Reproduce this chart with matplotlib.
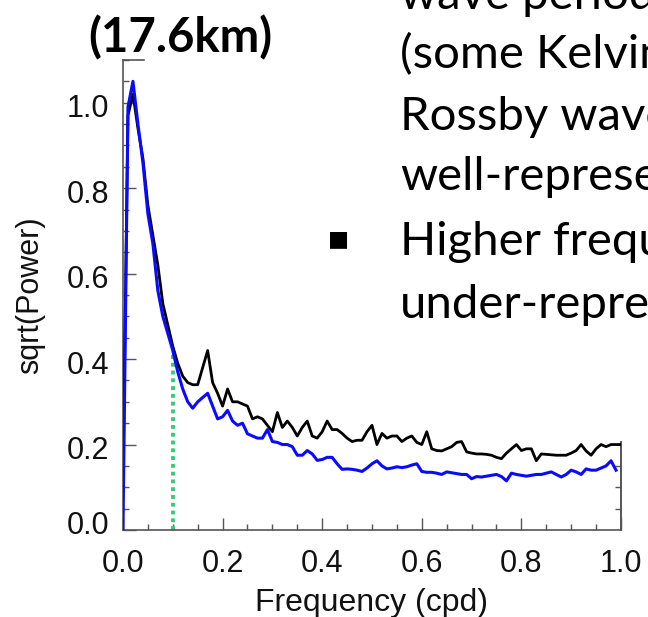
import numpy as np
import matplotlib.pyplot as plt
from matplotlib.ticker import MultipleLocator
from matplotlib.transforms import ScaledTranslation

# frequency grid (cpd)
freq = np.round(np.arange(0, 1.0001, 0.01), 2)

# sqrt(Power), black = reference, blue = model
black = [0.12, 0.97, 1.02, 0.94, 0.87, 0.76, 0.69, 0.62, 0.53, 0.48,
         0.43, 0.39, 0.36, 0.345, 0.34, 0.34, 0.38, 0.42, 0.345, 0.32,
         0.29, 0.33, 0.30, 0.30, 0.295, 0.29, 0.26, 0.265, 0.26, 0.245,
         0.23, 0.275, 0.24, 0.255, 0.24, 0.22, 0.24, 0.255, 0.22, 0.215,
         0.23, 0.255, 0.235, 0.235, 0.226, 0.215, 0.207, 0.21, 0.21, 0.23,
         0.245, 0.20, 0.226, 0.215, 0.22, 0.22, 0.207, 0.215, 0.22, 0.205,
         0.20, 0.23, 0.19, 0.186, 0.185, 0.19, 0.195, 0.205, 0.207, 0.183,
         0.18, 0.178, 0.178, 0.177, 0.175, 0.17, 0.167, 0.18, 0.19, 0.20,
         0.186, 0.19, 0.19, 0.162, 0.178, 0.177, 0.176, 0.175, 0.175, 0.175,
         0.18, 0.186, 0.20, 0.185, 0.175, 0.19, 0.20, 0.195, 0.20, 0.20,
         0.20]
blue = [0.0, 0.99, 1.05, 0.95, 0.86, 0.74, 0.67, 0.56, 0.50, 0.46,
        0.42, 0.37, 0.33, 0.30, 0.285, 0.30, 0.31, 0.32, 0.29, 0.26,
        0.265, 0.28, 0.255, 0.245, 0.25, 0.225, 0.22, 0.215, 0.215, 0.235,
        0.207, 0.205, 0.20, 0.20, 0.195, 0.175, 0.175, 0.186, 0.178, 0.163,
        0.165, 0.17, 0.17, 0.155, 0.142, 0.143, 0.142, 0.14, 0.137, 0.145,
        0.155, 0.162, 0.15, 0.143, 0.145, 0.148, 0.146, 0.148, 0.152, 0.155,
        0.137, 0.135, 0.135, 0.133, 0.13, 0.136, 0.134, 0.132, 0.13, 0.13,
        0.12, 0.125, 0.124, 0.126, 0.128, 0.13, 0.125, 0.115, 0.133, 0.13,
        0.128, 0.126, 0.128, 0.13, 0.13, 0.133, 0.136, 0.13, 0.124, 0.13,
        0.14, 0.136, 0.13, 0.143, 0.14, 0.14, 0.145, 0.15, 0.162, 0.14]
blue_freq = freq[:len(blue)]

cutoff = 0.1
cutoff_val = 0.42

tick_vals = [0, 0.2, 0.4, 0.6, 0.8, 1.0]
tick_labels = ["0.0", "0.2", "0.4", "0.6", "0.8", "1.0"]

slide_lines = ["wave periods", "(some Kelvin and", "Rossby waves)",
               "well-represented", "Higher frequencies", "under-represented"]

fig = plt.figure(figsize=(6.48, 6.17), dpi=100)
ax = fig.add_axes([0.1898, 0.1410, 0.7685, 0.7618])

ax.plot(freq, black, color="black", lw=2.0, zorder=3)
ax.plot(blue_freq, blue, color="#0a0aff", lw=2.2, zorder=4)
ax.plot([cutoff, cutoff], [0, cutoff_val], color="#3cc878", lw=2.8,
        linestyle=(0, (1, 1)), zorder=2)

ax.set_xlim(0, 1.0)
ax.set_ylim(0, 1.1)
ax.xaxis.set_minor_locator(MultipleLocator(0.05))
ax.yaxis.set_minor_locator(MultipleLocator(0.05))
ax.set_xticks(tick_vals, tick_labels)
ax.set_yticks(tick_vals, tick_labels)
ax.tick_params(which="both", direction="in", color="#555555", width=1.0,
               labelsize=22)
ax.tick_params(axis="x", pad=14)
ax.tick_params(axis="y", pad=10)
ax.tick_params(which="major", length=9)
ax.tick_params(which="minor", length=4.5)
for lab in ax.get_xticklabels() + ax.get_yticklabels():
    lab.set_fontfamily("Liberation Sans")
    lab.set_color("#111111")
for lab in ax.get_yticklabels()[1:]:
    lab.set_transform(lab.get_transform() + ScaledTranslation(0, -0.03, fig.dpi_scale_trans))
ax.get_yticklabels()[0].set_transform(
    ax.get_yticklabels()[0].get_transform() + ScaledTranslation(0, 0.08, fig.dpi_scale_trans))

for s in ax.spines.values():
    s.set_color("#555555")
    s.set_linewidth(1.2)
ax.spines["top"].set_bounds(0, 0.042)
ax.spines["right"].set_bounds(0, 0.207)

sec = ax.secondary_yaxis("right")
sec.set_yticks([0.05, 0.1, 0.15], ["", "", ""])
sec.tick_params(direction="in", length=4.5, color="#555555", width=1.0)
sec.spines["right"].set_bounds(0, 0.207)
sec.spines["right"].set_color("#555555")
sec.spines["right"].set_linewidth(1.2)

ax.set_xlabel("Frequency (cpd)", fontsize=23, family="Liberation Sans", color="#111111")
ax.set_ylabel("sqrt(Power)", fontsize=22, family="Liberation Sans", color="#111111")
ax.xaxis.set_label_coords(0.5, (530 - 603) / 470)
ax.xaxis.label.set_va("center")
ax.yaxis.set_label_coords((30 - 123) / 498, 0.5)
ax.yaxis.label.set_va("center")

fig.text(180 / 648, 1 - 38 / 617, "(17.6km)", fontsize=34, fontweight="bold",
         family="Lato", ha="center", va="center")

# slide text on the right
baselines = [9, 68, 130, 190, 255, 318]
for txt, yb in zip(slide_lines, baselines):
    fig.text(400 / 648, 1 - yb / 617, txt, fontsize=34, family="Lato",
             ha="left", va="baseline")
fig.text(338 / 648, 1 - 239 / 617, "\u25A0", fontsize=16, family="DejaVu Sans",
         ha="center", va="center")

fig.savefig("out.png", dpi=100)
